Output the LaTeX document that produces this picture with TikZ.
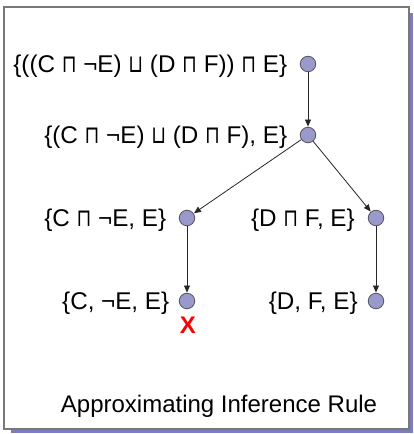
\documentclass[tikz,border=0pt]{standalone}
\usepackage{fontspec}
\usepackage{graphicx}
\setmainfont{Liberation Sans}
\newfontfamily\symf{DejaVu Sans}
\usetikzlibrary{arrows.meta,calc}
\definecolor{dotfill}{RGB}{153,153,204}
\definecolor{dotdraw}{RGB}{85,85,95}
\definecolor{framecol}{RGB}{120,120,120}
\definecolor{shadowcol}{RGB}{125,125,190}
\definecolor{xred}{RGB}{255,0,0}
\newcommand{\mtop}{\scalebox{1}[1.3]{\symf\fontsize{19}{20}\selectfont ⊓}}
\newcommand{\mbot}{\scalebox{1}[1.3]{\symf\fontsize{19}{20}\selectfont ⊔}}
\tikzset{
  dot/.style={circle, minimum size=15.5pt, inner sep=0pt, fill=dotfill, draw=dotdraw, line width=0.8pt},
  lbl/.style={inner sep=0pt, anchor=base east, font=\fontsize{24.2}{28}\selectfont},
  arr/.style={draw=black!85, line width=0.8pt, -{Triangle[length=7pt,width=6pt]}, shorten >=0.3pt}
}
\begin{document}
\begin{tikzpicture}[x=1pt,y=-1pt]
\useasboundingbox (0,0) rectangle (414,434);
% shadow and frame
\fill[shadowcol] (409.5,13) rectangle (413,433);
\fill[shadowcol] (11,429.5) rectangle (413,433);
\draw[framecol, line width=1.3pt, fill=white] (4,7) rectangle (409,429);
% dots
\node[dot] (n1) at (308,64) {};
\node[dot] (n2) at (308,135) {};
\node[dot] (n3) at (187,218) {};
\node[dot] (n4) at (376,218) {};
\node[dot] (n5) at (187,301) {};
\node[dot] (n6) at (376,301) {};
% labels
\node[lbl] (t1) at ($(n1.west)+(-12.5,8.6)$) {\{((C \mtop{} ¬E) \mbot{} (D \mtop{} F)) \mtop{} E\}};
\node[lbl] (t2) at ($(n2.west)+(-12.5,8.6)$) {\{(C \mtop{} ¬E) \mbot{} (D \mtop{} F), E\}};
\node[lbl] (t3) at ($(n3.west)+(-12.5,8.6)$) {\{C \mtop{} ¬E, E\}};
\node[lbl] (t4) at ($(n4.west)+(-13,8.6)$) {\{D \mtop{} F, E\}};
\node[lbl] (t5) at ($(n5.west)+(-9.5,8.6)$) {\{C, ¬E, E\}};
\node[lbl] (t6) at ($(n6.west)+(-10,8.6)$) {\{D, F, E\}};
% arrows
\draw[arr] (n1) -- (n2);
\draw[arr] (n2) -- (n3);
\draw[arr] (n2) -- (n4);
\draw[arr] (n3) -- (n5);
\draw[arr] (n4) -- (n6);
% cross
\node[inner sep=0pt, text=xred, font=\fontsize{24}{28}\bfseries\selectfont] (x) at (188,325) {X};
% caption
\node[inner sep=0pt, anchor=base, font=\fontsize{24}{28}\selectfont] (cap) at (219,412) {Approximating Inference Rule};
\end{tikzpicture}
\end{document}
